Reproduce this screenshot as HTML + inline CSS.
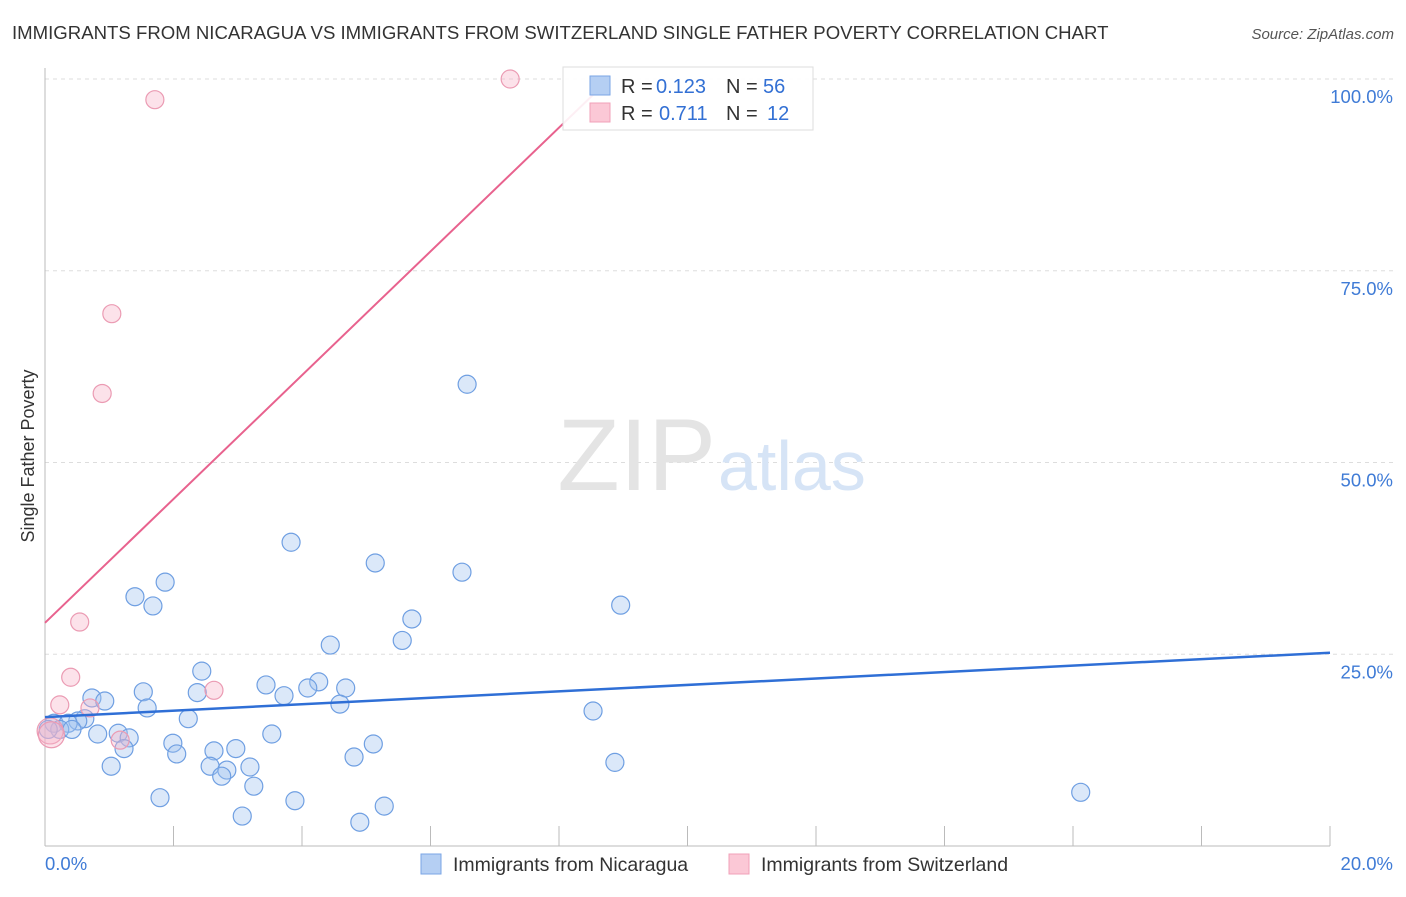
<!DOCTYPE html>
<html><head><meta charset="utf-8"><style>
body{margin:0;background:#fff;font-family:"Liberation Sans",sans-serif;}
svg text{font-family:"Liberation Sans",sans-serif;}
</style></head><body>
<svg id="chart" width="1406" height="892">
<text x="12" y="39" font-size="18.6" fill="#333">IMMIGRANTS FROM NICARAGUA VS IMMIGRANTS FROM SWITZERLAND SINGLE FATHER POVERTY CORRELATION CHART</text>
<text x="1394" y="39" font-size="15" fill="#555" font-style="italic" text-anchor="end">Source: ZipAtlas.com</text>
<text x="34" y="456" font-size="18" fill="#333" text-anchor="middle" transform="rotate(-90 34 456)">Single Father Poverty</text>
<g id="grid"></g>
<text x="716" y="490" font-size="102" fill="#e4e4e4" text-anchor="end" font-family="Liberation Serif">ZIP</text>
<text x="718" y="490" font-size="70" fill="#d6e4f6">atlas</text>
<g id="marks"></g>
<g id="legend-top">
<rect x="563" y="67" width="250" height="63" fill="rgba(255,255,255,0.9)" stroke="#ddd"/>
<rect x="590" y="76" width="20" height="19" fill="#b5cff3" stroke="#7aa5e6"/>
<rect x="590" y="103" width="20" height="19" fill="#fbc8d6" stroke="#f0a0b8"/>
<text x="621" y="93" font-size="20" fill="#333">R =</text>
<text x="656" y="93" font-size="20" fill="#3370d4">0.123</text>
<text x="726" y="93" font-size="20" fill="#333">N =</text>
<text x="763" y="93" font-size="20" fill="#3370d4">56</text>
<text x="621" y="120" font-size="20" fill="#333">R =</text>
<text x="659" y="120" font-size="20" fill="#3370d4">0.711</text>
<text x="726" y="120" font-size="20" fill="#333">N =</text>
<text x="767" y="120" font-size="20" fill="#3370d4">12</text>
</g>
<text x="45" y="870" font-size="18.5" fill="#3f7bd6">0.0%</text>
<text x="1393" y="870" font-size="18.5" fill="#3f7bd6" text-anchor="end">20.0%</text>
<g>
<rect x="421" y="854" width="20" height="20" fill="#b5cff3" stroke="#7aa5e6"/>
<text x="453" y="871" font-size="19.5" fill="#333">Immigrants from Nicaragua</text>
<rect x="729" y="854" width="20" height="20" fill="#fbc8d6" stroke="#f0a0b8"/>
<text x="761" y="871" font-size="19.5" fill="#333">Immigrants from Switzerland</text>
</g>
</svg>
<script>
const yTicks=[25,50,75,100];
const yTickLabels=["25.0%","50.0%","75.0%","100.0%"];
const blueX=[6.57,3.83,5.14,6.49,1.87,1.40,1.68,8.96,5.71,4.44,5.56,2.44,3.44,4.26,4.09,4.68,1.53,2.37,3.72,0.73,0.93,1.59,4.59,8.53,2.23,0.62,0.51,0.14,0.36,0.23,0.42,0.05,0.82,1.14,1.31,3.53,1.99,2.97,1.23,5.11,2.05,2.63,4.81,1.03,2.57,2.83,3.19,8.87,2.75,3.25,1.79,16.12,3.89,5.28,3.07,4.90];
const blueY=[60.2,39.6,36.9,35.7,34.4,32.5,31.3,31.4,29.6,26.2,26.8,22.8,21.0,21.4,20.6,20.6,20.1,20.0,19.6,19.3,18.9,18.0,18.5,17.6,16.6,16.6,16.3,16.0,16.0,15.2,15.2,15.2,14.6,14.7,14.1,14.6,13.4,12.7,12.7,13.3,12.0,12.4,11.6,10.4,10.4,9.9,10.3,10.9,9.1,7.8,6.3,7.0,5.9,5.2,3.9,3.1];
const pinkX=[7.24,1.71,1.04,0.89,0.54,0.40,2.63,0.23,0.70,1.17,0.08,0.10];
const pinkY=[100.0,97.3,69.4,59.0,29.2,22.0,20.3,18.4,18.0,13.8,15.0,14.5];
const blueTrend=[16.8,25.2];
const pinkTrend=[29.1,8.07];
const NS="http://www.w3.org/2000/svg";
const X0=45,X1=1330,Y0=846,PY=7.67;
function sx(v){return X0+v/20*(X1-X0);}
function sy(v){return Y0-v*PY;}
function mk(tag,attrs,parent){const e=document.createElementNS(NS,tag);for(const k in attrs)e.setAttribute(k,attrs[k]);parent.appendChild(e);return e;}
const grid=document.getElementById('grid'),marks=document.getElementById('marks');
yTicks.forEach((t,i)=>{
  const l=mk('line',{x1:X0,x2:1393,y1:sy(t),y2:sy(t),stroke:'#ddd','stroke-dasharray':'4,4'},grid);
  
  
  const tx=mk('text',{x:1393,y:sy(t)+24,'font-size':18.5,fill:'#3f7bd6','text-anchor':'end'},grid);
  tx.textContent=yTickLabels[i];
  
  
});
const ax=mk('line',{x1:X0,x2:X0,y1:68,y2:Y0,stroke:'#bbb'},grid);


const bx=mk('line',{x1:X0,x2:X1,y1:Y0,y2:Y0,stroke:'#bbb'},grid);


for(let i=1;i<=10;i++){
  const tk=mk('line',{x1:sx(i*2),x2:sx(i*2),y1:826,y2:Y0,stroke:'#bbb'},grid);
  
  
}
blueX.forEach((v,i)=>{
  const c=mk('circle',{cx:sx(v),cy:sy(blueY[i]),r:9,fill:'rgba(160,195,240,0.38)',stroke:'#6f9fe2','stroke-width':1.2},marks);
  
  
});
pinkX.forEach((v,i)=>{
  const c=mk('circle',{cx:sx(v),cy:sy(pinkY[i]),r:i>=10?13:9,fill:'rgba(248,180,200,0.38)',stroke:'#eb9bb3','stroke-width':1.2},marks);
  
  
});
const bl=mk('line',{x1:sx(0),y1:sy(blueTrend[0]),x2:sx(20),y2:sy(blueTrend[1]),stroke:'#2f6fd6','stroke-width':2.5},marks);


const xe=(100-pinkTrend[0])/pinkTrend[1];
const pl=mk('line',{x1:sx(0),y1:sy(pinkTrend[0]),x2:sx(xe),y2:sy(100),stroke:'#e8628e','stroke-width':2},marks);


</script>
</body></html>
